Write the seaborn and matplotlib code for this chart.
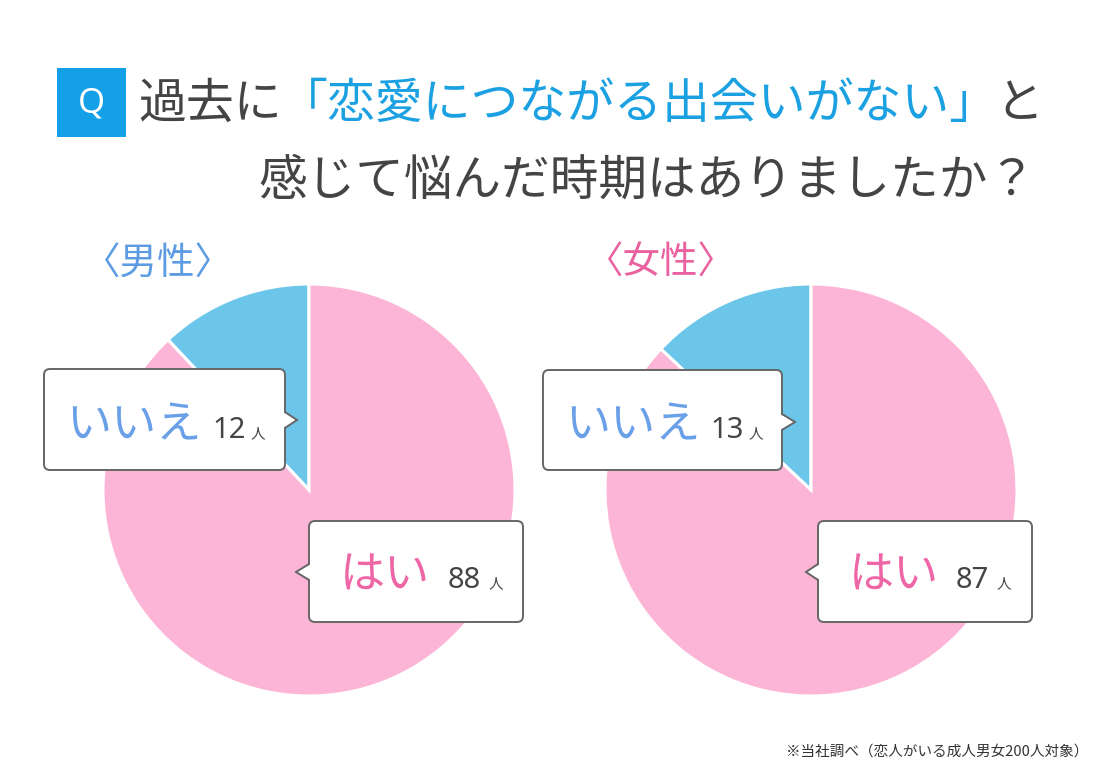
import matplotlib
matplotlib.use("Agg")
import matplotlib.pyplot as plt
import seaborn as sns
from matplotlib.patches import FancyBboxPatch, Polygon, Rectangle
from matplotlib.lines import Line2D

# ---- data ----
groups = ["男性", "女性"]
answers = ["いいえ", "はい"]
male_counts = [12, 88]
female_counts = [13, 87]
unit = "人"
title_pre = "過去に"
title_quote = "「恋愛につながる出会いがない」"
title_post = "と"
title_line2 = "感じて悩んだ時期はありましたか？"
footnote = "※当社調べ（恋人がいる成人男女200人対象）"

sns.set_theme(style="white")
plt.rcParams["font.family"] = ["Noto Sans CJK JP", "DejaVu Sans"]

W, H = 1100, 770
fig = plt.figure(figsize=(11, 7.7), dpi=100)
ax = fig.add_axes([0, 0, 1, 1])

def Y(y):
    return H - y

PINK = "#FCB5D6"
BLUE = "#6CC6EA"
GRAY = "#444444"
TITLE_BLUE = "#1BA1E2"
LBL_BLUE = "#5D9BE3"
LBL_PINK = "#E9619F"
ANS_BLUE = "#6AA0E8"
ANS_PINK = "#EE66A6"

# ---- pies ----
centers = [(309, 490), (811, 490)]
radius = 206
for counts, (cx, cy) in zip([male_counts, female_counts], centers):
    ax.pie(counts, colors=[BLUE, PINK], startangle=90, counterclock=True,
           center=(cx, Y(cy)), radius=radius,
           wedgeprops=dict(edgecolor="white", linewidth=2.2))

ax.set_xlim(0, W)
ax.set_ylim(0, H)
ax.set_aspect("equal")
ax.axis("off")

# ---- title ----
ax.add_patch(Rectangle((57, Y(137)), 69, 69, facecolor="#13A0E6", edgecolor="none", zorder=5))
ax.text(91.5, Y(103), "Q", color="white", fontsize=25, ha="center", va="center",
        family=["Noto Sans", "DejaVu Sans"], zorder=6)

fig.canvas.draw()
renderer = fig.canvas.get_renderer()
x = 138
for seg, col in [(title_pre, GRAY), (title_quote, TITLE_BLUE), (title_post, GRAY)]:
    t = ax.text(x, Y(104), seg, color=col, fontsize=34.5, ha="left", va="center")
    bb = t.get_window_extent(renderer)
    x = bb.x1 - 2
ax.text(1036, Y(181), title_line2, color=GRAY, fontsize=35, ha="right", va="center")

# ---- group labels ----
ax.text(158, Y(263), "〈" + groups[0] + "〉", color=LBL_BLUE, fontsize=27, ha="center", va="center")
ax.text(661, Y(263), "〈" + groups[1] + "〉", color=LBL_PINK, fontsize=27, ha="center", va="center")

# ---- callouts ----
def callout(x0, y0, x1, y1, side, tip_x, tip_y):
    box = FancyBboxPatch((x0, Y(y1)), x1 - x0, y1 - y0,
                         boxstyle="round,pad=0,rounding_size=6",
                         facecolor="white", edgecolor="#666666", linewidth=1.4, zorder=10)
    ax.add_patch(box)
    edge = x1 if side == "right" else x0
    inner = edge - 2 if side == "right" else edge + 2
    hh = 8
    ax.add_patch(Polygon([(inner, Y(tip_y - hh)), (tip_x, Y(tip_y)), (inner, Y(tip_y + hh))],
                         closed=True, facecolor="white", edgecolor="none", zorder=11))
    ax.add_line(Line2D([edge, tip_x, edge], [Y(tip_y - hh), Y(tip_y), Y(tip_y + hh)],
                       color="#666666", linewidth=1.4, zorder=12, solid_joinstyle="miter"))

def answer_text(ans, col, num, xa, xn, xu, base):
    ax.text(xa, Y(base), ans, color=col, fontsize=32.5, ha="left", va="baseline", zorder=13)
    ax.text(xn, Y(base), str(num), color=GRAY, fontsize=21, ha="left", va="baseline",
            family=["Noto Sans", "DejaVu Sans"], zorder=13)
    ax.text(xu, Y(base), unit, color=GRAY, fontsize=10.5, ha="left", va="baseline", zorder=13)

# male
callout(44, 369, 285, 470, "right", 297, 420)
answer_text(answers[0], ANS_BLUE, male_counts[0], 66, 212, 251, 438)
callout(309, 521, 523, 622, "left", 296, 572)
answer_text(answers[1], ANS_PINK, male_counts[1], 340, 448, 489, 588)
# female
callout(543, 370, 782, 470, "right", 795, 422)
answer_text(answers[0], ANS_BLUE, female_counts[0], 565, 710, 749, 438)
callout(818, 521, 1032, 622, "left", 806, 572)
answer_text(answers[1], ANS_PINK, female_counts[1], 849, 956, 997, 588)

# ---- footnote ----
ax.text(1088, Y(752), footnote, color="#333333", fontsize=10.5, ha="right", va="center")

fig.savefig("out.png", dpi=100, facecolor="white")
